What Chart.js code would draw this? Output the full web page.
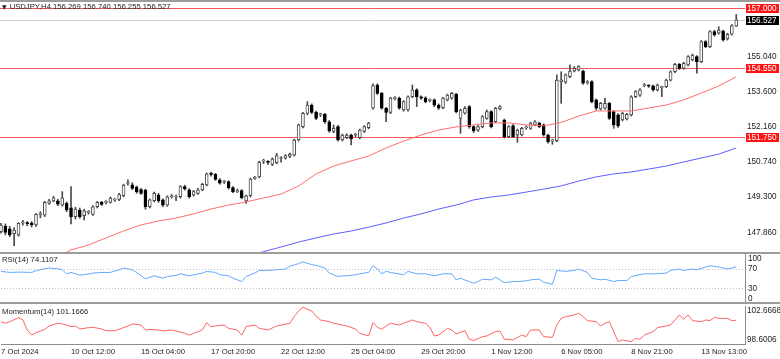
<!DOCTYPE html>
<html>
<head>
<meta charset="utf-8">
<script src="https://cdn.jsdelivr.net/npm/chart.js@4.4.0/dist/chart.umd.min.js"></script>
<style>
  html, body { margin: 0; padding: 0; background: #fff; }
  #wrap { position: relative; width: 780px; height: 359px; overflow: hidden; background: #fff;
          font-family: 'Liberation Sans', Arial, sans-serif; }
  .pane { position: absolute; left: 0; width: 780px; }
  .sep { position: absolute; left: 0; width: 780px; background: #9c9c9c; }
  .cap { position: absolute; left: 2px; font-size: 7.7px; color: #222; white-space: nowrap; line-height: 10px; }
  .tri { font-size: 6px; font-family: 'DejaVu Sans', sans-serif; margin-right: 3px; }
</style>
</head>
<body>
<div id="wrap">
  <div class="pane" style="top:0;height:253px"><canvas id="main"></canvas></div>
  <div class="pane" style="top:254px;height:49px"><canvas id="rsi"></canvas></div>
  <div class="pane" style="top:304px;height:55px"><canvas id="mom"></canvas></div>
  <div class="sep" style="top:0;height:2px"></div>
  <div class="sep" style="top:252px;height:2px"></div>
  <div class="sep" style="top:302px;height:2px"></div>
  <div class="cap" style="top:2px"><span class="tri">▼</span>USDJPY,H4 156.269 156.740 156.255 156.527</div>
  <div class="cap" style="top:255px">RSI(14) 74.1107</div>
  <div class="cap" style="top:307px">Momentum(14) 101.1666</div>
</div>
<script>
// USDJPY H4 candles, 7 Oct 20:00 .. 14 Nov (169 bars)
const opens = [147.885,148.10,148.00,147.80,147.75,148.24,148.22,148.23,148.16,148.58,
  148.56,149.04,149.14,149.14,148.97,149.04,148.86,148.50,148.77,148.54,
  148.67,148.59,148.90,149.08,149.08,149.08,149.17,149.20,149.35,149.85,
  149.80,149.70,149.60,149.58,148.90,149.15,149.38,149.18,148.97,149.31,
  149.30,149.31,149.72,149.59,149.38,149.45,149.59,149.79,150.25,150.22,
  150.00,149.90,149.93,149.68,149.52,149.56,149.14,149.35,150.06,150.12,
  150.76,150.73,150.63,150.70,150.87,150.88,150.95,151.01,151.63,152.17,
  152.71,153.05,152.75,152.66,152.67,152.37,151.97,152.17,151.63,151.72,
  151.83,151.82,151.72,151.97,152.13,152.92,153.87,153.53,152.92,152.75,
  153.31,153.33,152.85,152.85,153.39,153.67,153.39,153.35,153.24,153.26,
  153.05,152.94,153.26,153.33,153.49,152.51,152.72,152.99,152.17,152.03,
  152.17,152.51,152.78,152.37,152.89,152.44,151.76,152.21,151.83,151.83,
  152.12,152.10,152.24,152.31,152.24,151.83,151.58,151.60,154.00,153.98,
  154.21,154.44,154.48,154.44,153.96,154.01,153.26,152.89,152.92,153.12,
  152.78,152.65,152.44,152.48,152.65,153.39,153.45,153.84,153.83,153.83,
  153.67,153.76,153.80,154.07,154.41,154.71,154.55,154.69,154.89,155.03,
  154.82,155.64,155.43,156.05,155.98,156.07,155.75,155.94,156.269];
const highs = [148.22,148.20,148.10,148.05,148.25,148.35,148.30,148.30,148.62,148.70,
  149.12,149.20,149.33,149.20,149.52,149.10,149.72,148.88,148.85,148.80,
  148.75,148.95,149.12,149.12,149.15,149.30,149.25,149.45,149.82,150.00,
  149.88,149.75,149.65,149.62,149.22,149.50,149.45,149.22,149.35,149.40,
  149.38,149.76,149.78,149.64,149.57,149.65,149.86,150.28,150.32,150.26,
  150.05,149.98,149.96,149.72,149.62,149.60,149.38,150.07,150.14,150.76,
  150.84,150.78,150.90,151.08,150.95,151.03,151.09,151.66,152.28,152.75,
  153.19,153.10,152.80,152.72,152.71,152.42,152.24,152.22,151.87,151.88,
  151.87,151.90,152.07,152.21,152.35,153.92,153.92,153.57,152.96,153.37,
  153.40,153.38,153.23,153.43,153.87,153.72,153.43,153.39,153.30,153.30,
  153.10,153.37,153.50,153.57,153.53,152.89,152.99,153.03,152.21,152.21,
  152.62,152.85,152.82,152.96,153.03,152.48,152.21,152.25,152.07,152.14,
  152.20,152.35,152.42,152.35,152.28,151.87,151.66,154.28,154.41,154.32,
  154.69,154.62,154.66,154.48,154.05,154.05,153.30,153.16,153.33,153.16,
  152.82,152.70,152.75,152.71,153.43,153.64,153.72,153.93,153.88,153.87,
  153.91,153.82,154.11,154.45,154.75,154.75,154.80,155.07,155.13,155.07,
  155.68,155.68,156.09,156.10,156.25,156.11,155.98,156.33,156.740];
const lows = [147.82,147.75,147.68,147.31,147.70,148.15,148.12,148.08,148.10,148.45,
  148.50,149.00,149.10,148.95,148.93,148.70,148.20,148.40,148.43,148.36,
  148.60,148.55,148.85,148.95,149.02,149.05,149.12,149.15,149.30,149.78,
  149.60,149.45,149.40,148.80,148.85,149.10,149.08,148.90,148.92,149.25,
  149.15,149.25,149.58,149.25,149.33,149.40,149.55,149.75,150.15,149.98,
  149.82,149.85,149.62,149.48,149.48,149.22,149.04,149.30,150.02,150.08,
  150.66,150.62,150.58,150.65,150.72,150.84,150.90,150.97,151.58,152.12,
  152.65,152.70,152.45,152.58,152.30,151.94,151.92,151.58,151.58,151.68,
  151.42,151.76,151.68,151.93,152.08,152.88,153.48,152.88,152.37,152.70,
  153.26,152.88,152.80,152.80,153.35,152.99,153.28,153.14,153.18,152.98,
  152.87,152.90,153.22,153.29,152.73,151.90,152.68,152.10,151.93,151.97,
  152.12,152.47,152.12,152.33,152.85,151.70,151.72,151.72,151.53,151.79,
  152.06,152.06,152.20,152.13,151.78,151.50,151.45,151.55,153.12,153.93,
  154.17,154.40,154.44,153.89,153.90,153.14,152.85,152.85,152.88,152.46,
  152.10,152.14,152.40,152.44,152.60,153.35,153.40,153.80,153.77,153.62,
  153.62,153.39,153.76,154.03,154.37,154.50,154.51,154.65,154.85,154.35,
  154.78,155.39,155.39,155.86,155.94,155.66,155.70,155.90,156.255];
const closes = [148.157,147.85,147.75,147.95,148.22,148.26,148.21,148.16,148.59,148.60,
  149.08,149.14,149.27,149.01,149.27,148.77,148.50,148.81,148.50,148.73,
  148.68,148.90,149.08,149.00,149.09,149.25,149.20,149.40,149.79,149.86,
  149.65,149.52,149.45,148.90,149.18,149.45,149.14,148.97,149.31,149.32,
  149.31,149.72,149.63,149.31,149.52,149.59,149.82,150.24,150.22,150.02,
  149.86,149.93,149.68,149.52,149.56,149.27,149.35,150.03,150.09,150.71,
  150.77,150.71,150.85,150.99,150.88,150.99,151.04,151.62,152.24,152.71,
  153.05,152.75,152.51,152.67,152.37,151.99,152.10,151.63,151.83,151.83,
  151.67,151.84,152.03,152.17,152.31,153.85,153.53,152.92,152.75,153.33,
  153.33,152.92,153.19,153.39,153.67,153.39,153.33,153.19,153.26,153.05,
  152.92,153.33,153.46,153.53,152.78,152.85,152.92,152.17,151.99,152.17,
  152.58,152.78,152.17,152.92,152.99,151.76,152.17,151.76,152.03,152.10,
  152.14,152.31,152.37,152.17,151.83,151.56,151.60,154.07,154.08,154.28,
  154.44,154.55,154.62,153.94,153.98,153.19,152.92,153.12,153.12,152.51,
  152.24,152.20,152.71,152.67,153.39,153.60,153.67,153.88,153.82,153.67,
  153.87,153.77,154.07,154.41,154.71,154.55,154.75,155.03,155.09,154.82,
  155.64,155.43,156.05,155.91,156.11,155.71,155.94,156.29,156.527];

// moving averages, [bar, price]
const maRed = [[14,146.95],[16,147.14],[20,147.34],[24,147.63],[28,147.91],[32,148.16],[36,148.32],
  [40,148.44],[44,148.61],[48,148.81],[52,148.97],[56,149.10],[60,149.26],[64,149.42],[68,149.75],
  [72,150.24],[76,150.56],[80,150.77],[84,150.97],[88,151.30],[92,151.58],[96,151.83],[100,152.03],
  [104,152.16],[108,152.24],[112,152.32],[116,152.32],[120,152.24],[124,152.20],[128,152.34],
  [132,152.60],[136,152.81],[140,152.81],[144,152.81],[148,152.93],[152,153.05],[156,153.26],
  [160,153.54],[164,153.83],[168,154.20]];
const maBlue = [[58,146.97],[60,147.07],[64,147.26],[68,147.46],[72,147.63],[76,147.79],[80,147.91],
  [84,148.07],[88,148.24],[92,148.44],[96,148.61],[100,148.81],[104,148.97],[108,149.18],[112,149.30],
  [116,149.38],[120,149.50],[124,149.62],[128,149.75],[132,149.95],[136,150.12],[140,150.24],
  [144,150.32],[148,150.44],[152,150.56],[156,150.73],[160,150.89],[164,151.05],[168,151.30]];

// RSI(14) and Momentum(14), [bar, value]
const rsi = [[0,64.5],[2,62.4],[4,63.1],[7,62.4],[8,65.9],[10,70],[11,71.4],[13,70],[14,67.9],[15,59.6],
  [16,62.4],[18,56.9],[20,58.9],[21,61],[23,62.4],[25,62.4],[27,67.9],[28,71.4],[30,67.9],[31,62.4],
  [33,49.3],[34,52.7],[35,55.5],[37,50.7],[38,54.1],[40,56.2],[41,59.6],[43,55.5],[44,57.6],[46,61],
  [47,64.5],[49,62.4],[50,57.6],[52,55.5],[53,50.7],[55,43.7],[56,54.1],[58,61],[59,66.5],[61,66.5],
  [63,67.9],[65,69.3],[66,74.8],[68,80.4],[69,83.8],[71,78.3],[72,76.9],[74,71.4],[75,61],[77,54.1],
  [78,55.5],[79,55.5],[81,57.6],[82,59.6],[84,62.4],[85,76.2],[86,69.3],[87,59.6],[88,64.5],[89,62.4],
  [92,57.6],[93,64.5],[95,59.6],[97,59.6],[99,55.5],[101,59.6],[103,59.6],[104,47.2],[105,50.7],
  [106,47],[107,43.7],[108,40.3],[109,43.7],[110,48.6],[112,47.2],[113,52.7],[115,41.7],[117,43.7],
  [118,43.7],[120,45.1],[121,47.2],[123,48.6],[124,42.4],[126,38.2],[127,66.5],[129,64.5],[131,66.5],
  [132,69.3],[134,62.4],[135,50.7],[137,47.2],[138,48.6],[140,43.7],[141,45.8],[143,45.8],[144,54.1],
  [146,57.6],[147,59.6],[149,59.6],[150,59.6],[152,61],[153,66.5],[155,69.3],[156,66.5],[158,69.3],
  [159,67.9],[161,73.5],[162,76.2],[164,73.5],[166,69.3],[167,71.4],[168,74.11]];
const momentum = [[0,101.01],[1,100.84],[2,101.01],[4,101.43],[5,101.19],[6,100.13],[7,99.60],[8,99.85],
  [10,100.20],[11,100.56],[13,100.84],[14,100.77],[15,100.66],[16,100.48],[17,100.56],[18,100.24],
  [20,100.38],[21,100.42],[23,100.24],[24,100.06],[26,100.06],[27,100.20],[29,100.56],[30,100.77],
  [32,100.66],[33,100.13],[34,100.20],[36,100.13],[37,100.03],[39,100.13],[40,100.03],[42,99.78],
  [43,99.60],[44,99.78],[46,100.13],[47,100.91],[48,100.48],[49,100.56],[51,100.66],[52,100.31],
  [54,100.13],[55,99.60],[56,100.48],[58,100.66],[59,100.31],[61,100.13],[63,100.56],[64,100.66],
  [66,100.84],[67,101.54],[68,102.14],[69,102.53],[71,102.14],[72,101.61],[73,101.19],[75,101.01],
  [76,100.84],[78,100.66],[79,100.56],[81,100.24],[82,99.78],[84,99.50],[85,100.91],[86,100.42],
  [87,100.20],[88,100.56],[89,100.84],[91,100.66],[92,100.84],[94,101.19],[95,101.01],[97,100.84],
  [98,100.42],[99,99.50],[100,99.60],[102,100.31],[103,100.13],[104,99.71],[106,100.06],[107,99.15],
  [108,99.01],[110,99.43],[111,99.50],[113,99.96],[114,100.03],[115,99.15],[116,99.15],[117,99.08],
  [119,99.60],[120,99.43],[121,100.13],[123,100.13],[124,99.43],[126,99.36],[127,100.66],[128,101.36],
  [129,101.54],[131,101.72],[132,101.89],[133,101.54],[134,101.12],[136,101.01],[137,100.56],
  [138,100.84],[139,101.01],[141,98.90],[142,99.08],[144,98.90],[145,99.25],[146,99.15],[147,99.60],
  [149,99.96],[150,100.38],[152,100.56],[153,100.66],[155,101.72],[156,101.26],[157,101.72],
  [158,101.12],[160,101.01],[161,101.19],[162,101.12],[163,101.47],[164,101.36],[166,101.36],
  [167,101.12],[168,101.1666]];

const levels = [157.000, 154.550, 151.750];
const priceTicks = [147.860, 149.300, 150.740, 152.160, 153.600, 155.040];
const rsiTicks = [70, 30];
const xTickBars = [0, 16, 32, 48, 64, 80, 96, 112, 128, 144, 160];
const xTickText = ['7 Oct 2024', '10 Oct 12:00', '15 Oct 04:00', '17 Oct 20:00', '22 Oct 12:00',
  '25 Oct 04:00', '29 Oct 20:00', '1 Nov 12:00', '6 Nov 05:00', '8 Nov 21:00', '13 Nov 13:00'];

const SLOTS = 171; // bars plus right-hand shift
const slots = Array.from({ length: SLOTS }, (_, i) => i);
const lastClose = closes[closes.length - 1];
const AXIS_W = 35;
const FONT = "'Liberation Sans', Arial, sans-serif";

Chart.defaults.font.family = FONT;
Chart.defaults.font.size = 8.2;
Chart.defaults.color = '#222';

function toSlots(points) {
  const a = new Array(SLOTS).fill(null);
  points.forEach(([i, v]) => { a[i] = v; });
  return a;
}

// keep Chart.js from shrinking the plot area to make room for edge labels
function fitY(s) {
  s.width = AXIS_W;
  s.paddingTop = 0;
  s.paddingBottom = 0;
}

function xAxis(show) {
  return {
    type: 'category', offset: false, display: show,
    grid: { display: false, drawTicks: false },
    border: { display: show, color: '#8c8c8c', width: 1 },
    afterBuildTicks: s => { s.ticks = xTickBars.map(v => ({ value: v })); },
    afterFit: s => {
      if (show) s.height = 14.5;
      s.paddingLeft = 0;
      s.paddingRight = 0;
    },
    ticks: {
      autoSkip: false, maxRotation: 0, minRotation: 0, align: 'start', padding: 3,
      font: { size: 7.7 },
      callback: v => xTickText[xTickBars.indexOf(v)]
    }
  };
}

function baseOptions(pad) {
  return {
    responsive: true, maintainAspectRatio: false, animation: false, events: [],
    layout: { padding: pad },
    plugins: { legend: { display: false }, tooltip: { enabled: false } }
  };
}

// --- main price pane ---
const mainOverlay = {
  id: 'mainOverlay',
  beforeDatasetsDraw(chart) {
    const { ctx, chartArea: a, scales: { y } } = chart;
    ctx.save();
    ctx.lineWidth = 1;
    const hline = (v, color) => {
      const p = Math.round(y.getPixelForValue(v)) + 0.5;
      ctx.strokeStyle = color;
      ctx.beginPath(); ctx.moveTo(0, p); ctx.lineTo(a.right, p); ctx.stroke();
    };
    hline(lastClose, '#cfcfcf');
    levels.forEach(v => hline(v, 'rgb(240,88,88)'));
    ctx.restore();
  },
  afterDraw(chart) {
    const { ctx, chartArea: a, scales: { y } } = chart;
    ctx.save();
    ctx.font = '8.2px ' + FONT;
    ctx.textBaseline = 'middle';
    const box = (v, bg) => {
      const p = y.getPixelForValue(v);
      ctx.fillStyle = bg;
      ctx.fillRect(a.right + 1, Math.round(p) - 4, 33, 9);
      ctx.fillStyle = '#fff';
      ctx.fillText(v.toFixed(3), a.right + 2, p + 0.5);
    };
    levels.forEach(v => box(v, '#ff1414'));
    box(lastClose, '#000');
    ctx.restore();
  }
};

new Chart(document.getElementById('main'), {
  type: 'bar',
  data: {
    labels: slots,
    datasets: [
      {
        type: 'line', data: toSlots(maRed), borderColor: 'rgb(255,110,110)', borderWidth: 1,
        pointRadius: 0, spanGaps: true, order: 0
      },
      {
        type: 'line', data: toSlots(maBlue), borderColor: 'rgb(95,95,255)', borderWidth: 1,
        pointRadius: 0, spanGaps: true, order: 0
      },
      {
        data: opens.map((o, i) => [Math.min(o, closes[i]), Math.max(o, closes[i])]),
        backgroundColor: opens.map((o, i) => closes[i] >= o ? '#ffffff' : '#000000'),
        borderColor: opens.map((o, i) => closes[i] >= o ? '#4a4a4a' : '#000000'),
        borderWidth: 1, borderSkipped: false, barThickness: 3, minBarLength: 1,
        grouped: false, clip: false, order: 1
      },
      {
        data: lows.map((l, i) => [l, highs[i]]),
        backgroundColor: '#4a4a4a', borderWidth: 0, barThickness: 1,
        grouped: false, clip: false, order: 2
      }
    ]
  },
  options: Object.assign(baseOptions({ left: 1, top: 2, bottom: 1, right: 0 }), {
    scales: {
      x: xAxis(false),
      y: {
        position: 'right', min: 147.055, max: 157.255,
        grid: { display: false, drawTicks: false },
        border: { display: false },
        afterBuildTicks: s => { s.ticks = priceTicks.map(v => ({ value: v })); },
        afterFit: fitY,
        ticks: { padding: 2, callback: v => v.toFixed(3) }
      }
    }
  }),
  plugins: [mainOverlay]
});

// --- RSI pane ---
const rsiOverlay = {
  id: 'rsiOverlay',
  beforeDatasetsDraw(chart) {
    const { ctx, chartArea: a, scales: { y } } = chart;
    ctx.save();
    ctx.strokeStyle = '#c4c4c4';
    ctx.lineWidth = 1;
    ctx.setLineDash([1, 2]);
    rsiTicks.forEach(v => {
      const p = Math.round(y.getPixelForValue(v)) + 0.5;
      ctx.beginPath(); ctx.moveTo(a.left, p); ctx.lineTo(a.right, p); ctx.stroke();
    });
    ctx.restore();
  },
  afterDraw(chart) {
    const { ctx, chartArea: a, scales: { y } } = chart;
    ctx.save();
    ctx.font = '8.2px ' + FONT;
    ctx.fillStyle = '#222';
    ctx.textBaseline = 'middle';
    ctx.fillText('100', a.right + 3, y.getPixelForValue(100) + 5);
    ctx.fillText('0', a.right + 3, y.getPixelForValue(0) - 4.5);
    ctx.restore();
  }
};

new Chart(document.getElementById('rsi'), {
  type: 'line',
  data: {
    labels: slots,
    datasets: [{
      data: toSlots(rsi), borderColor: 'rgb(100,168,255)', borderWidth: 1,
      pointRadius: 0, spanGaps: true
    }]
  },
  options: Object.assign(baseOptions({ left: 1, top: 0, bottom: 0, right: 0 }), {
    scales: {
      x: xAxis(false),
      y: {
        position: 'right', min: 0, max: 100,
        grid: { display: false, drawTicks: false },
        border: { display: true, color: '#8c8c8c', width: 1 },
        afterBuildTicks: s => { s.ticks = rsiTicks.map(v => ({ value: v })); },
        afterFit: fitY,
        ticks: { padding: 3, callback: v => String(v) }
      }
    }
  }),
  plugins: [rsiOverlay]
});

// --- Momentum pane with the time axis ---
const momMax = 102.6668;
const momMin = 98.6006;
const momOverlay = {
  id: 'momOverlay',
  afterDraw(chart) {
    const { ctx, chartArea: a, scales: { y } } = chart;
    ctx.save();
    ctx.font = '8.2px ' + FONT;
    ctx.fillStyle = '#222';
    ctx.textBaseline = 'middle';
    ctx.fillText(momMax.toFixed(4), a.right + 2, y.getPixelForValue(momMax) + 5);
    ctx.fillText(momMin.toFixed(4), a.right + 2, y.getPixelForValue(momMin) - 4.5);
    ctx.restore();
  }
};

new Chart(document.getElementById('mom'), {
  type: 'line',
  data: {
    labels: slots,
    datasets: [{
      data: toSlots(momentum), borderColor: 'rgb(255,100,100)', borderWidth: 1,
      pointRadius: 0, spanGaps: true
    }]
  },
  options: Object.assign(baseOptions({ left: 1, top: 2, bottom: 0, right: 0 }), {
    scales: {
      x: xAxis(true),
      y: {
        position: 'right', min: momMin, max: momMax,
        grid: { display: false, drawTicks: false },
        border: { display: true, color: '#8c8c8c', width: 1 },
        afterFit: fitY,
        ticks: { display: false }
      }
    }
  }),
  plugins: [momOverlay]
});
</script>
</body>
</html>
